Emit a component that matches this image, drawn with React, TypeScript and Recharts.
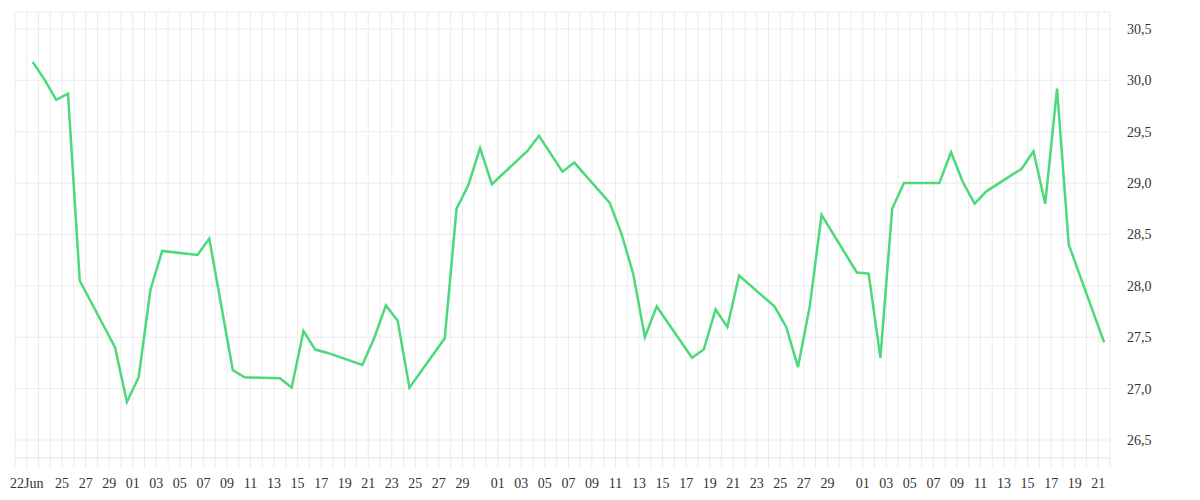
import React from 'react';
import { LineChart, Line, XAxis, YAxis, CartesianGrid } from 'recharts';

// Observation dates (each reading taken around midday)
const dates: string[] = [
  '2023-06-22', '2023-06-23', '2023-06-24', '2023-06-25', '2023-06-26',
  '2023-06-29', '2023-06-30', '2023-07-01', '2023-07-02', '2023-07-03',
  '2023-07-06', '2023-07-07', '2023-07-09', '2023-07-10', '2023-07-13',
  '2023-07-14', '2023-07-15', '2023-07-16', '2023-07-17', '2023-07-20',
  '2023-07-21', '2023-07-22', '2023-07-23', '2023-07-24', '2023-07-27',
  '2023-07-28', '2023-07-29', '2023-07-30', '2023-07-31', '2023-08-03',
  '2023-08-04', '2023-08-06', '2023-08-07', '2023-08-10', '2023-08-11',
  '2023-08-12', '2023-08-13', '2023-08-14', '2023-08-17', '2023-08-18',
  '2023-08-19', '2023-08-20', '2023-08-21', '2023-08-24', '2023-08-25',
  '2023-08-26', '2023-08-27', '2023-08-28', '2023-08-31', '2023-09-01',
  '2023-09-02', '2023-09-03', '2023-09-04', '2023-09-07', '2023-09-08',
  '2023-09-09', '2023-09-10', '2023-09-11', '2023-09-14', '2023-09-15',
  '2023-09-16', '2023-09-17', '2023-09-18', '2023-09-21',
];

const values: number[] = [
  30.18, 30.01, 29.81, 29.87, 28.05,
  27.40, 26.87, 27.11, 27.96, 28.34,
  28.30, 28.46, 27.18, 27.11, 27.10,
  27.01, 27.56, 27.38, 27.35, 27.23,
  27.49, 27.81, 27.66, 27.01, 27.49,
  28.75, 28.98, 29.34, 28.99, 29.31,
  29.46, 29.11, 29.20, 28.81, 28.51,
  28.12, 27.50, 27.80, 27.30, 27.38,
  27.77, 27.60, 28.10, 27.80, 27.60,
  27.21, 27.80, 28.69, 28.13, 28.12,
  27.30, 28.75, 29.00, 29.00, 29.30,
  29.01, 28.80, 28.92, 29.14, 29.31,
  28.80, 29.92, 28.40, 27.45,
];

const yTicks: number[] = [26.5, 27.0, 27.5, 28.0, 28.5, 29.0, 29.5, 30.0, 30.5];
const yDomain: [number, number] = [26.325, 30.665];

const START = Date.UTC(2023, 5, 21);
const END = Date.UTC(2023, 8, 22);
const DAY = 86400000;
const TOTAL_DAYS = Math.round((END - START) / DAY);

const dayTicks: number[] = Array.from({ length: TOTAL_DAYS + 1 }, (_, i) => i);

const data = dates.map((d, i) => ({
  t: (Date.parse(d + 'T12:00:00Z') - START) / DAY,
  v: values[i],
}));

const MONTHS = ['Jan', 'Feb', 'Mar', 'Apr', 'May', 'Jun', 'Jul', 'Aug', 'Sep', 'Oct', 'Nov', 'Dec'];

function formatDayTick(i: number): string {
  const dt = new Date(START + i * DAY);
  const day = dt.getUTCDate();
  if (i === 1) return `${day}${MONTHS[dt.getUTCMonth()]}`;
  if (i >= 4 && day % 2 === 1 && day <= 29) return String(day).padStart(2, '0');
  return '';
}

const formatY = (v: number) => v.toFixed(1).replace('.', ',');

const GRID = '#ebebeb';

export default function App() {
  return (
    <div style={{ position: 'absolute', left: 0, top: 0, width: 1200, height: 500, background: '#fff' }}>
      <LineChart width={1200} height={500} data={data} margin={{ top: 12, right: 0, bottom: 0, left: 15 }}>
        <CartesianGrid stroke={GRID} strokeWidth={1} />
        <XAxis
          dataKey="t"
          type="number"
          domain={[0, TOTAL_DAYS]}
          ticks={dayTicks}
          interval={0}
          tickFormatter={formatDayTick}
          height={42}
          axisLine={{ stroke: GRID }}
          tickLine={{ stroke: GRID }}
          tickSize={10}
          tickMargin={10}
          tick={{ fontSize: 14, fill: '#333' }}
        />
        <YAxis
          orientation="right"
          type="number"
          domain={yDomain}
          ticks={yTicks}
          interval={0}
          allowDataOverflow
          width={90}
          axisLine={false}
          tickLine={false}
          tickSize={6}
          tickMargin={11}
          tickFormatter={formatY}
          tick={{ fontSize: 14, fill: '#333', textAnchor: 'start' }}
        />
        <Line
          type="linear"
          dataKey="v"
          stroke="#4cd97b"
          strokeWidth={2.5}
          dot={false}
          activeDot={false}
          isAnimationActive={false}
        />
      </LineChart>
    </div>
  );
}
